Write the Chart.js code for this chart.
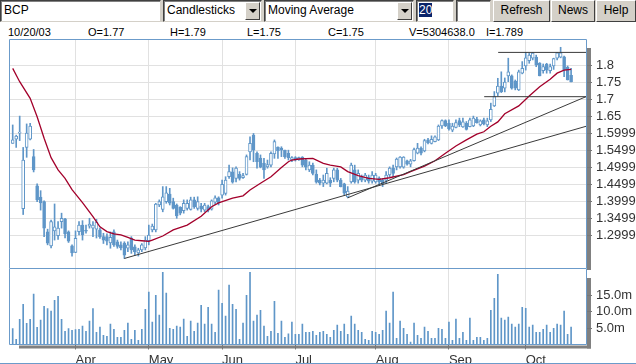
<!DOCTYPE html>
<html>
<head>
<meta charset="utf-8">
<script src="https://cdn.jsdelivr.net/npm/chart.js@4.4.1/dist/chart.umd.min.js"></script>
<style>
  body { margin:0; width:636px; height:364px; overflow:hidden; background:#fff; position:relative;
         font-family:"Liberation Sans", Arial, sans-serif; color:#000; }
  #tb { position:absolute; left:0; top:0; width:636px; height:22px; background:#d4d0c8; }
  .f { position:absolute; top:0; height:22px; box-sizing:border-box; background:#fff; font-size:12px;
       line-height:19px; padding-left:3px; white-space:nowrap; overflow:hidden;
       border-top:1px solid #404040; border-left:1px solid #404040;
       border-right:1px solid #d4d0c8; border-bottom:1px solid #d4d0c8; box-shadow:inset 1px 1px 0 #808080; }
  .arr { position:absolute; right:1px; top:1px; width:15px; height:18px; box-sizing:border-box; background:#d4d0c8;
         border:1px solid; border-color:#fff #404040 #404040 #fff; }
  .arr:after { content:''; position:absolute; left:3px; top:6px; border-left:4px solid transparent;
         border-right:4px solid transparent; border-top:4px solid #000; }
  .b { position:absolute; top:0; height:22px; box-sizing:border-box; background:#d4d0c8; text-align:center;
       font-size:12px; line-height:19px; border:1px solid; border-color:#fff #404040 #404040 #fff; }
  .sel { background:#0a246a; color:#fff; }
  #info span { position:absolute; top:26px; font-size:11px; line-height:13px; }
  canvas { position:absolute; left:0; }
</style>
</head>
<body>
<div id="tb">
  <div class="f" style="left:0;width:161px">BCP</div>
  <div class="f" style="left:163px;width:99px">Candlesticks<span class="arr"></span></div>
  <div class="f" style="left:264px;width:150px">Moving Average<span class="arr"></span></div>
  <div class="f" style="left:416px;width:38px;padding-left:2px"><span class="sel">20</span></div>
  <div class="f" style="left:456px;width:35px"></div>
  <div class="b" style="left:493px;width:57px">Refresh</div>
  <div class="b" style="left:551px;width:44px">News</div>
  <div class="b" style="left:596px;width:40px">Help</div>
</div>
<div id="info">
  <span style="left:8px">10/20/03</span>
  <span style="left:88px">O=1.77</span>
  <span style="left:170px">H=1.79</span>
  <span style="left:247px">L=1.75</span>
  <span style="left:328px">C=1.75</span>
  <span style="left:409px">V=5304638.0</span>
  <span style="left:486px">I=1.789</span>
</div>
<canvas id="main" width="636" height="232" style="top:38px"></canvas>
<canvas id="vol" width="636" height="96" style="top:268px"></canvas>
<script>
// daily bars, 6 Mar 2003 .. 20 Oct 2003 (index = trading day)
const opens = [
  1.570,1.582,1.600,1.378,1.558,1.582,1.531,1.445,1.412,1.399,
  1.310,1.269,1.313,1.299,1.340,1.348,1.310,1.269,1.250,1.311,
  1.330,1.313,1.327,1.321,1.318,1.316,1.296,1.296,1.278,1.310,
  1.281,1.272,1.277,1.262,1.292,1.266,1.248,1.257,1.263,1.284,
  1.316,1.316,1.389,1.376,1.399,1.421,1.399,1.389,1.383,1.372,
  1.379,1.376,1.404,1.379,1.386,1.374,1.384,1.377,1.397,1.410,
  1.418,1.423,1.472,1.486,1.467,1.479,1.469,1.479,1.545,1.594,
  1.541,1.527,1.512,1.501,1.506,1.539,1.559,1.556,1.550,1.541,
  1.521,1.528,1.521,1.530,1.521,1.492,1.506,1.480,1.462,1.453,
  1.453,1.462,1.467,1.492,1.462,1.451,1.413,1.457,1.492,1.462,
  1.471,1.462,1.471,1.459,1.457,1.468,1.462,1.462,1.477,1.497,
  1.501,1.501,1.500,1.519,1.509,1.519,1.541,1.556,1.548,1.580,
  1.570,1.575,1.580,1.621,1.637,1.629,1.609,1.617,1.637,1.618,
  1.629,1.619,1.621,1.641,1.624,1.639,1.624,1.639,1.680,1.717,
  1.738,1.732,1.768,1.768,1.753,1.727,1.776,1.797,1.813,1.820,
  1.823,1.806,1.783,1.803,1.783,1.797,1.820,1.823,1.824,1.793,
  1.770];
const highs = [
  1.624,1.594,1.650,1.558,1.627,1.629,1.552,1.451,1.431,1.401,
  1.318,1.345,1.392,1.340,1.365,1.350,1.313,1.272,1.313,1.340,
  1.343,1.330,1.350,1.340,1.347,1.321,1.306,1.304,1.310,1.316,
  1.286,1.281,1.281,1.281,1.296,1.272,1.262,1.276,1.296,1.330,
  1.333,1.394,1.404,1.443,1.443,1.438,1.409,1.392,1.384,1.404,
  1.404,1.412,1.412,1.413,1.394,1.394,1.389,1.404,1.416,1.413,
  1.462,1.472,1.506,1.498,1.501,1.487,1.482,1.536,1.589,1.599,
  1.545,1.536,1.526,1.521,1.545,1.580,1.560,1.560,1.550,1.550,
  1.531,1.531,1.530,1.531,1.526,1.516,1.512,1.492,1.467,1.477,
  1.497,1.469,1.497,1.497,1.467,1.453,1.443,1.512,1.506,1.492,
  1.477,1.482,1.477,1.487,1.482,1.472,1.467,1.487,1.501,1.506,
  1.527,1.531,1.531,1.521,1.523,1.556,1.570,1.560,1.582,1.585,
  1.592,1.592,1.624,1.639,1.639,1.639,1.629,1.639,1.644,1.644,
  1.634,1.644,1.650,1.646,1.639,1.644,1.644,1.688,1.722,1.761,
  1.780,1.762,1.820,1.771,1.756,1.785,1.810,1.837,1.834,1.837,
  1.829,1.807,1.803,1.805,1.803,1.820,1.837,1.852,1.826,1.797,
  1.790];
const lows = [
  1.570,1.558,1.578,1.361,1.529,1.580,1.486,1.399,1.374,1.296,
  1.272,1.263,1.286,1.288,1.321,1.292,1.279,1.239,1.249,1.301,
  1.286,1.306,1.321,1.296,1.292,1.291,1.276,1.272,1.262,1.267,
  1.262,1.257,1.232,1.252,1.247,1.242,1.239,1.252,1.257,1.272,
  1.310,1.310,1.384,1.369,1.394,1.389,1.377,1.350,1.360,1.365,
  1.374,1.374,1.379,1.374,1.369,1.369,1.369,1.374,1.391,1.389,
  1.409,1.418,1.467,1.453,1.457,1.462,1.467,1.477,1.521,1.516,
  1.497,1.498,1.467,1.497,1.501,1.526,1.526,1.531,1.526,1.521,
  1.516,1.518,1.520,1.501,1.492,1.487,1.477,1.453,1.448,1.443,
  1.451,1.443,1.457,1.457,1.442,1.418,1.410,1.453,1.453,1.453,
  1.457,1.457,1.453,1.453,1.453,1.448,1.443,1.453,1.472,1.472,
  1.492,1.497,1.497,1.506,1.501,1.518,1.539,1.536,1.545,1.568,
  1.568,1.574,1.578,1.614,1.619,1.609,1.604,1.615,1.619,1.617,
  1.609,1.618,1.619,1.629,1.621,1.624,1.619,1.634,1.678,1.709,
  1.719,1.721,1.751,1.729,1.727,1.725,1.774,1.785,1.805,1.815,
  1.795,1.768,1.776,1.776,1.776,1.787,1.815,1.821,1.766,1.756,
  1.750];
const closes = [
  1.580,1.591,1.602,1.521,1.600,1.621,1.492,1.404,1.395,1.321,
  1.277,1.340,1.325,1.321,1.350,1.304,1.283,1.248,1.291,1.330,
  1.301,1.312,1.333,1.330,1.339,1.295,1.286,1.283,1.294,1.272,
  1.267,1.263,1.242,1.272,1.257,1.251,1.257,1.272,1.286,1.301,
  1.327,1.392,1.399,1.413,1.425,1.394,1.379,1.357,1.365,1.394,
  1.394,1.404,1.383,1.399,1.377,1.389,1.374,1.401,1.410,1.395,
  1.450,1.462,1.487,1.456,1.497,1.467,1.475,1.531,1.570,1.550,
  1.516,1.500,1.492,1.508,1.541,1.575,1.548,1.550,1.530,1.528,
  1.528,1.521,1.528,1.506,1.500,1.506,1.482,1.456,1.453,1.462,
  1.482,1.453,1.492,1.462,1.443,1.424,1.430,1.506,1.457,1.482,
  1.462,1.477,1.459,1.477,1.477,1.457,1.451,1.477,1.497,1.482,
  1.524,1.530,1.530,1.509,1.519,1.552,1.556,1.541,1.578,1.572,
  1.582,1.589,1.621,1.637,1.621,1.612,1.621,1.631,1.624,1.633,
  1.611,1.639,1.644,1.631,1.636,1.627,1.636,1.670,1.707,1.738,
  1.722,1.750,1.780,1.732,1.732,1.780,1.790,1.821,1.829,1.835,
  1.800,1.768,1.795,1.785,1.795,1.819,1.836,1.836,1.785,1.756,
  1.750];
// volume in millions
const volumes = [
  4.8,1.6,7.6,12.2,6.4,7.6,15.3,5.2,7.4,11.6,
  10.9,10.1,13.4,14.6,7.6,4.0,4.8,4.3,4.5,4.6,
  5.6,4.0,7.1,10.9,3.7,5.3,2.8,2.5,6.2,4.6,
  2.2,2.2,4.3,6.5,1.6,4.3,1.3,4.6,10.7,15.9,
  6.8,14.9,8.9,21.9,15.6,4.9,4.6,5.6,5.3,7.7,
  2.5,7.1,4.0,6.5,11.9,6.2,11.3,6.2,3.7,16.5,
  12.5,8.6,18.0,12.2,10.7,1.6,6.5,14.9,21.9,7.1,
  8.9,10.4,5.6,2.5,4.0,13.1,3.4,7.1,2.2,3.2,
  6.8,3.1,3.1,6.2,3.7,3.7,4.0,2.8,3.7,4.0,
  3.1,2.2,4.3,5.9,4.0,6.2,3.1,8.6,6.2,4.3,
  3.7,1.6,1.3,4.0,3.7,3.1,4.3,10.1,6.5,15.9,
  1.9,7.1,4.9,3.1,0.7,6.5,2.8,1.9,5.3,4.0,
  1.9,1.9,4.9,4.6,1.9,6.8,1.3,7.7,1.9,3.7,
  1.3,8.0,1.3,2.2,2.2,1.3,1.9,10.4,14.0,21.3,
  8.0,7.4,8.3,6.2,5.3,6.2,11.3,11.0,5.3,5.9,
  3.7,3.7,4.6,5.9,3.7,4.9,6.2,5.9,10.1,3.1,
  5.3];
// 20-day moving average, read at sample bars
const maIdx  = [0,2,5,7,9,11,13,15,17,20,23,25,27,29,31,33,35,37,39,40,43,46,50,54,57,59,63,66,68,71,74,77,79,80,82,86,89,91,94,96,99,102,105,108,112,114,118,121,124,127,130,133,135,137,139,141,145,148,151,154,156,158,160];
const maVals = [1.790,1.751,1.702,1.648,1.585,1.528,1.492,1.467,1.434,1.396,1.355,1.325,1.311,1.304,1.301,1.294,1.286,1.284,1.282,1.286,1.298,1.316,1.330,1.356,1.384,1.395,1.409,1.416,1.433,1.453,1.472,1.499,1.516,1.521,1.524,1.526,1.511,1.506,1.501,1.487,1.475,1.467,1.464,1.469,1.478,1.487,1.503,1.519,1.541,1.562,1.580,1.597,1.604,1.620,1.633,1.657,1.680,1.709,1.736,1.758,1.776,1.785,1.787];
// drawn trend lines: start/end bar and price
const trendX0 = [32, 96, 139.1, 135.1];
const trendY0 = [1.232, 1.410, 1.837, 1.707];
const trendX1 = [164.27, 164.27, 164.27, 164.27];
const trendY1 = [1.620, 1.707, 1.837, 1.707];

const monthLabels = ['Apr','May','Jun','Jul','Aug','Sep','Oct'];
const monthStart = [18, 39, 60, 81, 104, 125, 147];
const priceTicks = [1.3,1.35,1.4,1.45,1.5,1.55,1.6,1.65,1.7,1.75,1.8];
const priceLabels = ['1.29995','1.34995','1.39995','1.44995','1.49995','1.54995','1.59995','1.65','1.7','1.75','1.8'];
const volTicks = [5, 10, 15];
const volLabels = ['5.0m','10.0m','15.0m'];

const blue = '#5f96c8';
const frameBlue = '#6b9bca';
const maRed = '#a3002b';
const gridGray = '#e1e1e1';
const xMin = -0.774, xMax = 164.27;

Chart.defaults.font.family = '"Liberation Sans", Arial, sans-serif';
Chart.defaults.font.size = 12;
Chart.defaults.color = '#333';

function framePlugin(kind) {
    return {
        id: 'frame_' + kind,
        beforeDraw(chart) {
            const { ctx, chartArea: a } = chart;
            ctx.save();
            ctx.fillStyle = '#808080';
            if (kind === 'main') {
                ctx.fillRect(a.right + 1, a.top + 8, 4, chart.height - a.top - 8);
            } else {
                ctx.fillRect(a.right + 1, a.top + 9, 4, a.bottom - a.top - 5);
                ctx.fillRect(a.left + 9, a.bottom + 1, a.right - a.left - 4, 3);
            }
            ctx.restore();
        },
        afterDraw(chart) {
            const { ctx, chartArea: a } = chart;
            ctx.save();
            ctx.strokeStyle = frameBlue;
            ctx.lineWidth = 1;
            ctx.beginPath();
            if (kind === 'main') {
                ctx.rect(a.left - 0.5, a.top - 0.5, a.right - a.left + 1, a.bottom - a.top + 1);
            } else {
                ctx.moveTo(a.left - 0.5, a.top);
                ctx.lineTo(a.left - 0.5, a.bottom);
                ctx.lineTo(a.right + 0.5, a.bottom);
                ctx.lineTo(a.right + 0.5, a.top);
                ctx.moveTo(0, chart.height - 0.5);
                ctx.lineTo(chart.width, chart.height - 0.5);
            }
            ctx.stroke();
            ctx.restore();
        }
    };
}

const bodies = opens.map((o, i) => ({ x: i, y: [o, closes[i]] }));
const wicks = lows.map((l, i) => ({ x: i, y: [l, highs[i]] }));
const bodyFill = opens.map((o, i) => closes[i] >= o ? '#ffffff' : blue);
const maPoints = maIdx.map((x, k) => ({ x, y: maVals[k] }));

const trendSets = trendX0.map((x0, k) => ({
    type: 'line',
    data: [{ x: x0, y: trendY0[k] }, { x: trendX1[k], y: trendY1[k] }],
    borderColor: '#3a3a3a',
    borderWidth: 1,
    pointRadius: 0,
    order: 0
}));

new Chart(document.getElementById('main'), {
    type: 'bar',
    data: {
        datasets: [
            ...trendSets,
            { type: 'line', data: maPoints, borderColor: maRed, borderWidth: 1.3, pointRadius: 0, tension: 0, order: 1 },
            { data: bodies, backgroundColor: bodyFill, borderColor: blue, borderWidth: 1, borderSkipped: false,
              barThickness: 3, minBarLength: 1, grouped: false, order: 2 },
            { data: wicks, backgroundColor: blue, barThickness: 1, grouped: false, order: 3 }
        ]
    },
    options: {
        responsive: false,
        animation: false,
        devicePixelRatio: 1,
        layout: { padding: { left: 10, right: 0, top: 2, bottom: 2 } },
        plugins: { legend: { display: false }, tooltip: { enabled: false } },
        scales: {
            x: {
                type: 'linear', min: xMin, max: xMax, offset: false, bounds: 'data',
                grid: { color: gridGray, drawTicks: false, offset: false },
                border: { display: false },
                ticks: { display: false },
                afterBuildTicks: s => { s.ticks = monthStart.map(v => ({ value: v })); },
                afterFit: s => { s.height = 0; s.paddingLeft = 0; s.paddingRight = 0; }
            },
            y: {
                position: 'right', min: 1.204, max: 1.8734, bounds: 'data',
                grid: { color: gridGray, tickColor: '#777', tickLength: 6 },
                border: { display: false },
                ticks: { padding: 4, autoSkip: false, font: { size: 13 }, callback: (v, i) => priceLabels[i] },
                afterBuildTicks: s => { s.ticks = priceTicks.map(v => ({ value: v })); },
                afterFit: s => { s.width = 50; s.paddingTop = 0; s.paddingBottom = 0; }
            }
        }
    },
    plugins: [framePlugin('main')]
});

new Chart(document.getElementById('vol'), {
    type: 'bar',
    data: {
        datasets: [
            { data: volumes.map((v, i) => ({ x: i, y: v })), backgroundColor: blue, barThickness: 1, grouped: false }
        ]
    },
    options: {
        responsive: false,
        animation: false,
        devicePixelRatio: 1,
        layout: { padding: { left: 10, right: 0, top: 1, bottom: 0 } },
        plugins: { legend: { display: false }, tooltip: { enabled: false } },
        scales: {
            x: {
                type: 'linear', min: xMin, max: xMax, offset: false, bounds: 'data',
                grid: { color: gridGray, tickColor: '#777', tickLength: 5, offset: false },
                border: { display: false },
                ticks: { align: 'start', maxRotation: 0, autoSkip: false, padding: 3, font: { size: 13 },
                         callback: (v, i) => monthLabels[i] },
                afterBuildTicks: s => { s.ticks = monthStart.map(v => ({ value: v })); },
                afterFit: s => { s.height = 19.5; s.paddingLeft = 0; s.paddingRight = 0; }
            },
            y: {
                position: 'right', min: 0, max: 22.9, bounds: 'data',
                grid: { drawOnChartArea: false, tickColor: '#777', tickLength: 6 },
                border: { display: false },
                ticks: { padding: 4, autoSkip: false, font: { size: 13 }, callback: (v, i) => volLabels[i] },
                afterBuildTicks: s => { s.ticks = volTicks.map(v => ({ value: v })); },
                afterFit: s => { s.width = 50; s.paddingTop = 0; s.paddingBottom = 0; }
            }
        }
    },
    plugins: [framePlugin('vol')]
});
</script>
</body>
</html>
